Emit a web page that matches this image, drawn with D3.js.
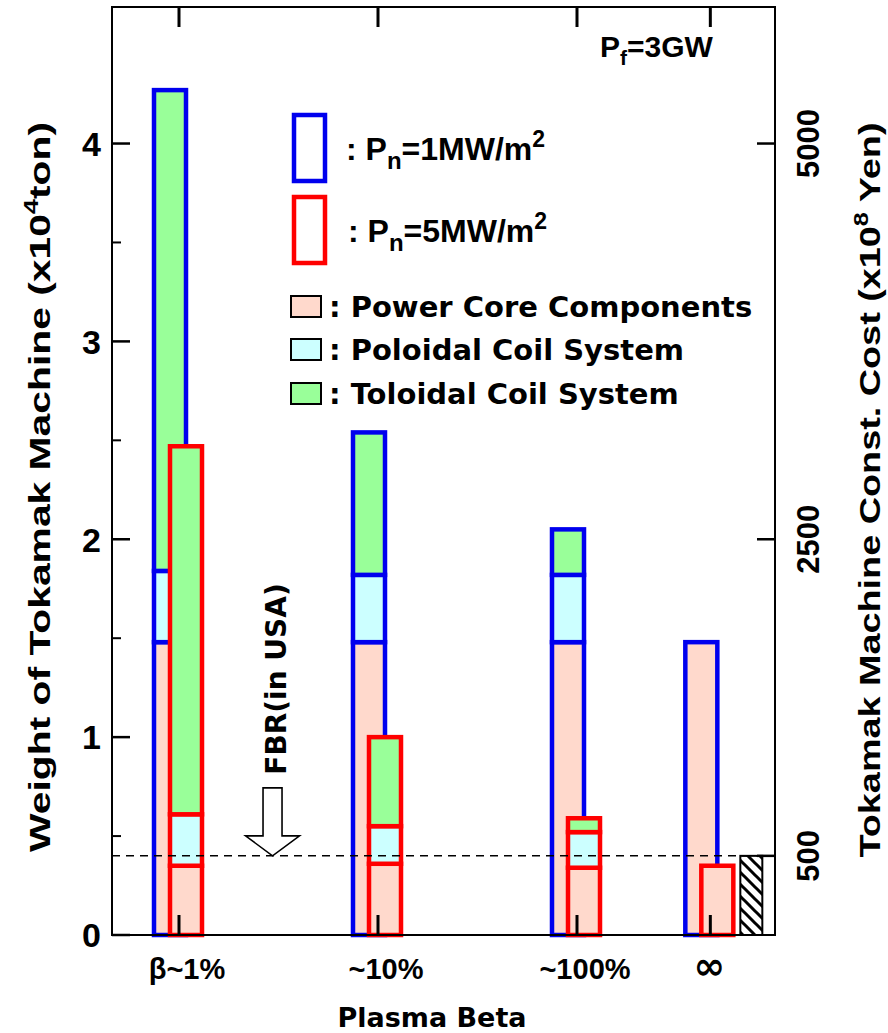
<!DOCTYPE html>
<html><head><meta charset="utf-8">
<script src="https://cdn.jsdelivr.net/npm/d3@7"></script>
<style>
body{margin:0;background:#fff;}
text{font-family:"Liberation Sans",Arial,sans-serif;font-weight:bold;fill:#000;}
.dv{font-family:"DejaVu Sans",Verdana,sans-serif;}
</style></head>
<body><svg id="c" width="888" height="1033"></svg>
<script>
// ---- data ----
const categories = ["β~1%", "~10%", "~100%", "∞"];
const catPos = [0, 1, 2, 2.67];
// Pn = 1 MW/m2 (blue outline) components, x10^4 ton
const core1 = [1.48, 1.48, 1.48, 1.48];
const pol1  = [0.36, 0.34, 0.34, 0];
const tor1  = [2.43, 0.72, 0.23, 0];
// Pn = 5 MW/m2 (red outline)
const core5 = [0.35, 0.36, 0.34, 0.35];
const pol5  = [0.26, 0.19, 0.18, 0];
const tor5  = [1.86, 0.45, 0.07, 0];
const fbrLevel = 0.40;
const weightTicks = [0, 1, 2, 3, 4];
const weightMinor = [0.5, 1.5, 2.5, 3.5];
const costTicks = [500, 2500, 5000];
const costPerWeight = 1250;
const componentNames = ["Power Core Components", "Poloidal Coil System", "Toloidal Coil System"];

// ---- layout ----
const L = 112, R = 775, T = 7, B = 935;
const colors = {core: "#ffd9cc", pol: "#ccffff", tor: "#99ff99"};
const keys = ["core", "pol", "tor"];
const svg = d3.select("#c");

const y = d3.scaleLinear().domain([0, 4.69]).range([B, T]);
const yCost = d3.scaleLinear().domain([0, 4.69 * costPerWeight]).range([B, T]);
const x = d3.scaleLinear().domain([0, 2]).range([179, 577]);

const stack = d3.stack().keys(keys);
const rows1 = categories.map((c, i) => ({cat: c, pos: catPos[i], core: core1[i], pol: pol1[i], tor: tor1[i]}));
const rows5 = categories.map((c, i) => ({cat: c, pos: catPos[i], core: core5[i], pol: pol5[i], tor: tor5[i]}));

function drawSeries(rows, offset, stroke) {
  const g = svg.append("g");
  const st = stack(rows);
  st.forEach(layer => {
    layer.forEach(d => {
      if (d[1] - d[0] <= 0) return;
      g.append("rect")
        .attr("x", x(d.data.pos) + offset - 16)
        .attr("width", 32)
        .attr("y", y(d[1]))
        .attr("height", y(d[0]) - y(d[1]))
        .attr("fill", colors[layer.key])
        .attr("stroke", stroke)
        .attr("stroke-width", 4.5);
    });
  });
}
drawSeries(rows1, -9, "#0000ee");
drawSeries(rows5, 7, "#ff0000");

// hatched FBR bar
const defs = svg.append("defs");
const pat = defs.append("pattern").attr("id", "hatch").attr("patternUnits", "userSpaceOnUse")
  .attr("width", 12).attr("height", 12);
pat.append("path").attr("d", "M-3,-3L15,15M-3,9L3,15M9,-3L15,3").attr("stroke", "#000").attr("stroke-width", 3);
svg.append("rect")
  .attr("x", x(catPos[3]) + 30).attr("width", 22)
  .attr("y", y(fbrLevel)).attr("height", y(0) - y(fbrLevel))
  .attr("fill", "url(#hatch)").attr("stroke", "#000").attr("stroke-width", 2);

// dashed FBR line
svg.append("line").attr("x1", L).attr("x2", R).attr("y1", y(fbrLevel)).attr("y2", y(fbrLevel))
  .attr("stroke", "#000").attr("stroke-width", 1.5).attr("stroke-dasharray", "8,6");

// FBR arrow
const ax = x(0.47), ty = y(fbrLevel);
svg.append("path")
  .attr("d", `M${ax-9.5},${ty-68}L${ax+9.5},${ty-68}L${ax+9.5},${ty-20}L${ax+27},${ty-20}L${ax},${ty}L${ax-27},${ty-20}L${ax-9.5},${ty-20}Z`)
  .attr("fill", "#fff").attr("stroke", "#000").attr("stroke-width", 1.6);
svg.append("text").attr("class", "dv")
  .attr("transform", `translate(${ax + 13},679) rotate(-90)`)
  .attr("text-anchor", "middle").attr("font-size", 28).text("FBR(in USA)");

// frame
svg.append("rect").attr("x", L).attr("y", T).attr("width", R - L).attr("height", B - T)
  .attr("fill", "none").attr("stroke", "#000").attr("stroke-width", 2);

// left axis ticks (inward)
svg.selectAll(".lt").data(weightTicks).join("line")
  .attr("x1", L).attr("x2", L + 18).attr("y1", d => y(d)).attr("y2", d => y(d))
  .attr("stroke", "#000").attr("stroke-width", 2.5);
svg.selectAll(".lm").data(weightMinor).join("line")
  .attr("x1", L).attr("x2", L + 9).attr("y1", d => y(d)).attr("y2", d => y(d))
  .attr("stroke", "#000").attr("stroke-width", 2);
svg.selectAll(".ll").data(weightTicks).join("text")
  .attr("x", 101).attr("y", d => y(d)).attr("dy", "0.36em").attr("text-anchor", "end")
  .attr("font-size", 34).text(d => d);

// right axis ticks
svg.selectAll(".rt").data(costTicks).join("line")
  .attr("x1", R).attr("x2", R - 18).attr("y1", d => yCost(d)).attr("y2", d => yCost(d))
  .attr("stroke", "#000").attr("stroke-width", 2.5);
svg.selectAll(".rl").data(costTicks).join("text")
  .attr("transform", d => `translate(819,${yCost(d)}) rotate(-90)`)
  .attr("text-anchor", "middle").attr("font-size", 31).text(d => d);

// category ticks top & bottom
svg.selectAll(".bt").data(catPos).join("line")
  .attr("x1", d => x(d)).attr("x2", d => x(d)).attr("y1", B).attr("y2", B - 20)
  .attr("stroke", "#000").attr("stroke-width", 3);
svg.selectAll(".tt").data(catPos).join("line")
  .attr("x1", d => x(d)).attr("x2", d => x(d)).attr("y1", T).attr("y2", T + 20)
  .attr("stroke", "#000").attr("stroke-width", 3);
svg.selectAll(".cl").data(categories).join("text")
  .attr("class", d => d === "∞" ? "dv" : null)
  .attr("x", (d, i) => x(catPos[i]) + (d === "∞" ? -1 : 8)).attr("y", 979).attr("text-anchor", "middle")
  .attr("font-size", d => d === "∞" ? 38 : 29).text(d => d);

// axis titles
svg.append("text").attr("class", "dv").attr("x", 432).attr("y", 1027).attr("text-anchor", "middle")
  .attr("font-size", 27).text("Plasma Beta");
const lt = svg.append("text").attr("transform", "translate(50,487) rotate(-90)")
  .attr("text-anchor", "middle").attr("font-size", 30)
  .attr("textLength", 730).attr("lengthAdjust", "spacingAndGlyphs");
lt.append("tspan").text("Weight of Tokamak Machine (x10");
lt.append("tspan").attr("dy", -12).attr("font-size", 20).text("4");
lt.append("tspan").attr("dy", 12).text("ton)");
const rt = svg.append("text").attr("transform", "translate(880,490) rotate(-90)")
  .attr("text-anchor", "middle").attr("font-size", 30)
  .attr("textLength", 735).attr("lengthAdjust", "spacingAndGlyphs");
rt.append("tspan").text("Tokamak Machine Const. Cost (x10");
rt.append("tspan").attr("dy", -12).attr("font-size", 20).text("8");
rt.append("tspan").attr("dy", 12).text(" Yen)");

// Pf label
const pf = svg.append("text").attr("x", 600).attr("y", 57).attr("font-size", 30);
pf.append("tspan").text("P");
pf.append("tspan").attr("dy", 8).attr("font-size", 21).text("f");
pf.append("tspan").attr("dy", -8).text("=3GW");

// legend: Pn outlines
const pnLeg = [{c: "#0000ee", v: "1", y: 115, ty: 160, tx: 346}, {c: "#ff0000", v: "5", y: 197, ty: 242, tx: 348}];
pnLeg.forEach(d => {
  svg.append("rect").attr("x", 294).attr("y", d.y).attr("width", 31).attr("height", 66)
    .attr("fill", "none").attr("stroke", d.c).attr("stroke-width", 4.5);
  const t = svg.append("text").attr("x", d.tx).attr("y", d.ty).attr("font-size", 32);
  t.append("tspan").text(": P");
  t.append("tspan").attr("dy", 9).attr("font-size", 24).text("n");
  t.append("tspan").attr("dy", -9).text("=" + d.v + "MW/m");
  t.append("tspan").attr("dy", -13).attr("font-size", 23).text("2");
});
// legend: components
componentNames.forEach((n, i) => {
  const yy = [296, 339, 383][i];
  svg.append("rect").attr("x", 291).attr("y", yy).attr("width", 30).attr("height", 21)
    .attr("fill", colors[keys[i]]).attr("stroke", "#000").attr("stroke-width", 2);
  svg.append("text").attr("class", "dv").attr("x", 329).attr("y", yy + 21)
    .attr("font-size", 29).text(": " + n);
});
</script></body></html>
